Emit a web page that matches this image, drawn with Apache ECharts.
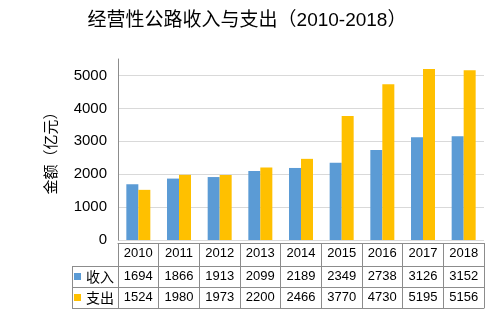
<!DOCTYPE html>
<html><head><meta charset="utf-8">
<script src="https://cdn.jsdelivr.net/npm/echarts@6/dist/echarts.min.js"></script>
<style>html,body{margin:0;padding:0;background:#fff}#c{width:494px;height:324px}</style>
</head><body><div id="c"></div>
<script>
var years = ['2010','2011','2012','2013','2014','2015','2016','2017','2018'];
var income = [1694,1866,1913,2099,2189,2349,2738,3126,3152];
var expense = [1524,1980,1973,2200,2466,3770,4730,5195,5156];
var seriesNames = ['收入','支出'];
var titleText = '经营性公路收入与支出（2010-2018）';
var yName = '金额（亿元）';

var FONT = "'Liberation Sans','Noto Sans CJK SC',sans-serif";
var LINE = '#8c8c8c';
var chart = echarts.init(document.getElementById('c'), null, {renderer:'canvas'});
var tableLabel = {fontFamily:FONT, fontSize:13, color:'#000', margin:4};
function tableAxis(data, offset, showLabel, ticks){
  return {
    type:'category', data:data, gridIndex:0, position:'bottom', offset:offset,
    axisLine:{show:true, lineStyle:{color:LINE, width:1}},
    axisTick:{show:ticks, length:65, interval:0, lineStyle:{color:LINE, width:1}},
    axisLabel:Object.assign({show:showLabel, interval:0}, tableLabel),
    splitLine:{show:false}
  };
}
chart.setOption({
  animation:false,
  title:{text:titleText, left:'center', top:6,
    textStyle:{fontFamily:FONT, fontSize:19, fontWeight:'normal', color:'#000'}},
  legend:{data:seriesNames, orient:'vertical', left:74, top:266, padding:0, itemWidth:7, itemHeight:7,
    itemGap:0, selectedMode:false, icon:'rect',
    textStyle:{fontFamily:"'Noto Sans CJK SC',sans-serif", fontSize:14, lineHeight:21, color:'#000'}},
  grid:{left:118, right:10, top:59, bottom:84, containLabel:false},
  xAxis:[
    {type:'category', data:years, axisLine:{show:false}, axisTick:{show:false}, axisLabel:{show:false}},
    tableAxis(years, 3, true, true),
    tableAxis(income.map(String), 26, true, false),
    tableAxis(expense.map(String), 47, true, false),
    tableAxis(years, 68, false, false)
  ],
  yAxis:{type:'value', min:0, max:5500, interval:500,
    name:yName, nameLocation:'middle', nameGap:60, nameRotate:90,
    nameTextStyle:{fontFamily:"'Noto Sans CJK SC',sans-serif", fontSize:15, color:'#000'},
    axisLine:{show:true, lineStyle:{color:LINE, width:1}},
    axisTick:{show:false},
    axisLabel:{fontFamily:FONT, fontSize:15, color:'#000', margin:11,
      formatter:function(v){return v%1000===0 ? String(v) : '';}},
    splitLine:{show:true, lineStyle:{color:['#d9d9d9','rgba(0,0,0,0)'], width:1}}
  },
  series:[
    {name:seriesNames[0], type:'bar', data:income, barWidth:12, barGap:'0%', itemStyle:{color:'#5B9BD5'}},
    {name:seriesNames[1], type:'bar', data:expense, barWidth:12, barGap:'0%', itemStyle:{color:'#FFC000'}}
  ],
  graphic:[
    {type:'line', shape:{x1:72, y1:266.5, x2:118, y2:266.5}, style:{stroke:LINE, lineWidth:1}},
    {type:'line', shape:{x1:72, y1:287.5, x2:118, y2:287.5}, style:{stroke:LINE, lineWidth:1}},
    {type:'line', shape:{x1:72, y1:308.5, x2:118, y2:308.5}, style:{stroke:LINE, lineWidth:1}},
    {type:'line', shape:{x1:72.5, y1:266, x2:72.5, y2:309}, style:{stroke:LINE, lineWidth:1}}
  ]
});
</script></body></html>
